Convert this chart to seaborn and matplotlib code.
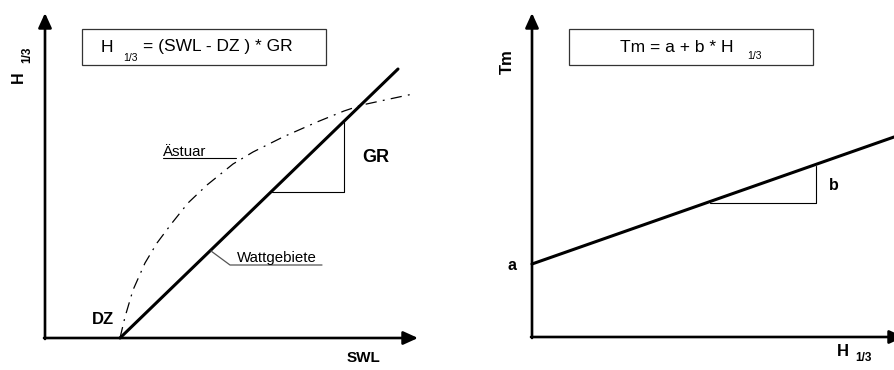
import matplotlib
matplotlib.use("Agg")
import matplotlib.pyplot as plt
import seaborn as sns
from matplotlib.patches import Rectangle

sns.set_theme(style="white")
plt.rcParams['font.family'] = ['Liberation Sans', 'DejaVu Sans']
plt.rcParams['text.color'] = 'black'

# ---- data (schematic units) ----
# left panel: H1/3 vs SWL
dz = 75
wattgebiete_swl = [75, 353]
wattgebiete_h = [0, 269]
aestuar_swl = [75, 80, 88, 100, 112, 127, 143, 162, 188, 208, 238, 272, 299, 317, 340, 368]
aestuar_h = [0, 21, 48, 75, 95, 115, 135, 153, 174, 186, 201, 216, 227, 233, 238, 244]
gr_tri_x = [227, 299, 299]
gr_tri_y = [146, 146, 216]
# right panel: Tm vs H1/3
tm_h = [0, 362]
tm_t = [73, 200]
b_tri_x = [178, 284, 284]
b_tri_y = [134, 134, 171]

fig = plt.figure(figsize=(8.94, 3.70), dpi=100)
axL = fig.add_axes([0, 0, 0.5, 1])
axR = fig.add_axes([0.5, 0, 0.5, 1])
axL.set_xlim(-45, 402); axL.set_ylim(-32, 338)
axR.set_xlim(-85, 362); axR.set_ylim(-33, 337)
for ax in (axL, axR):
    ax.axis('off')

arrow = dict(arrowstyle='-|>,head_length=0.55,head_width=0.25', lw=1.9,
             color='black', mutation_scale=16, shrinkA=0, shrinkB=0)

def axes_arrows(ax, xend, yend):
    ax.annotate("", xy=(0, yend), xytext=(0, -1), arrowprops=arrow, annotation_clip=False)
    ax.annotate("", xy=(xend, 0), xytext=(-1, 0), arrowprops=arrow, annotation_clip=False)

K = 'black'
# ---- left panel ----
axes_arrows(axL, 373, 325)
sns.lineplot(x=wattgebiete_swl, y=wattgebiete_h, ax=axL, color=K, lw=2.2,
             sort=False, estimator=None)
sns.lineplot(x=aestuar_swl, y=aestuar_h, ax=axL, color=K, lw=0.9,
             linestyle=(0, (9, 5, 1.5, 5)), sort=False, estimator=None)
axL.plot(gr_tri_x, gr_tri_y, color=K, lw=0.8)
axL.add_patch(Rectangle((37, 273), 244, 36, fill=False, lw=0.9, edgecolor='#333333'))
axL.text(56, 291, "H", fontsize=12.5, color=K, ha='left', va='center')
axL.text(78, 280, "1/3", fontsize=7.5, color=K, ha='left', va='center')
axL.text(98, 291, "= (SWL - DZ ) * GR", fontsize=12.5, color=K, ha='left', va='center')
# Ästuar label
axL.text(118, 186, "Ästuar", fontsize=10.8, color=K, ha='left', va='center')
axL.plot([118, 191], [180, 180], color=K, lw=0.8)
# Wattgebiete label
axL.plot([166, 185, 277], [87, 73, 73], color='#555555', lw=0.9)
axL.text(192, 80, "Wattgebiete", fontsize=10.8, color=K, ha='left', va='center')
axL.text(317, 180, "GR", fontsize=13, fontweight='bold', color=K, ha='left', va='center')
axL.text(47, 18, "DZ", fontsize=12, fontweight='bold', color=K, ha='left', va='center')
axL.text(318, -20, "SWL", fontsize=11, fontweight='bold', color=K, ha='center', va='center')
axL.text(-27, 261, "H", fontsize=11.5, fontweight='bold', rotation=90, color=K, ha='center', va='center')
axL.text(-18, 283, "1/3", fontsize=8.5, fontweight='bold', rotation=90, color=K, ha='center', va='center')

# ---- right panel ----
axes_arrows(axR, 372, 324)
sns.lineplot(x=tm_h, y=tm_t, ax=axR, color=K, lw=2.2, sort=False, estimator=None)
axR.plot(b_tri_x, b_tri_y, color=K, lw=0.8)
axR.add_patch(Rectangle((37, 272), 244, 36, fill=False, lw=0.9, edgecolor='#333333'))
axR.text(88, 290, "Tm = a + b * H", fontsize=12.5, color=K, ha='left', va='center')
axR.text(215, 281, "1/3", fontsize=7.5, color=K, ha='left', va='center')
axR.text(-25, 275, "Tm", fontsize=12, fontweight='bold', rotation=90, color=K, ha='center', va='center')
axR.text(-20, 72, "a", fontsize=11.5, fontweight='bold', color=K, ha='center', va='center')
axR.text(302, 151, "b", fontsize=11.5, fontweight='bold', color=K, ha='center', va='center')
axR.text(311, -14, "H", fontsize=12, fontweight='bold', color=K, ha='center', va='center')
axR.text(331, -21, "1/3", fontsize=8.5, fontweight='bold', color=K, ha='center', va='center')

fig.savefig("out.png", dpi=100)
